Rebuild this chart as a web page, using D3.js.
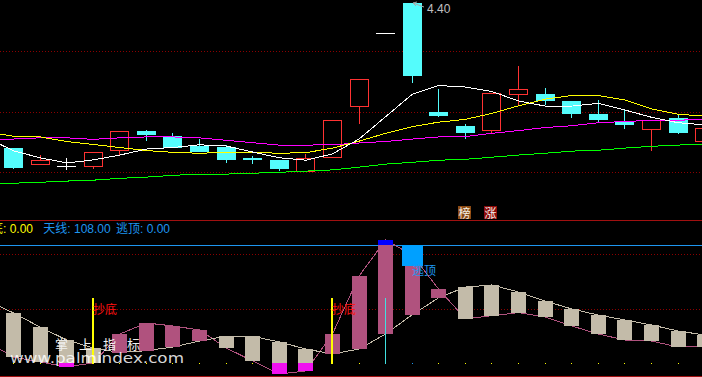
<!DOCTYPE html>
<html>
<head>
<meta charset="utf-8">
<title>K线 抄底逃顶</title>
<script src="https://cdn.jsdelivr.net/npm/d3@7"></script>
<style>
  html, body { margin: 0; padding: 0; background: #000; overflow: hidden; }
  svg { display: block; font-family: "Liberation Sans", Arial, "Noto Sans CJK SC", sans-serif; }
</style>
</head>
<body>
<svg id="chart" width="702" height="377"></svg>
<script>
// daily K-line, price in yuan
var opens  = [3.920, 3.867, 3.861, 3.861, 3.914, 3.977, 3.960, 3.927, 3.924, 3.887, 3.881, 3.844, 3.891, 4.059, 4.301, 4.400, 4.039, 3.993, 3.980, 4.099, 4.099, 4.076, 4.033, 4.006, 3.983, 4.020, 3.943];
var highs  = [3.920, 3.897, 3.887, 3.907, 3.977, 3.980, 3.970, 3.950, 3.930, 3.894, 3.881, 3.901, 4.013, 4.148, 4.301, 4.400, 4.115, 4.000, 4.102, 4.191, 4.119, 4.076, 4.079, 4.046, 4.013, 4.033, 3.986];
var lows   = [3.851, 3.867, 3.848, 3.851, 3.894, 3.943, 3.920, 3.907, 3.871, 3.867, 3.844, 3.844, 3.891, 4.000, 4.301, 4.135, 4.023, 3.950, 3.970, 4.059, 4.062, 4.020, 4.006, 3.983, 3.910, 3.967, 3.943];
var closes = [3.854, 3.881, 3.861, 3.907, 3.977, 3.963, 3.920, 3.907, 3.881, 3.881, 3.851, 3.887, 4.013, 4.148, 4.301, 4.158, 4.026, 3.970, 4.102, 4.115, 4.076, 4.033, 4.013, 3.996, 4.013, 3.970, 3.986];

// moving averages, first value = the day before the visible window
var ma5  = [3.954, 3.911, 3.888, 3.871, 3.881, 3.897, 3.917, 3.922, 3.931, 3.927, 3.907, 3.888, 3.880, 3.901, 3.950, 4.024, 4.098, 4.127, 4.122, 4.107, 4.076, 4.059, 4.059, 4.068, 4.046, 4.022, 4.004, 3.997];
var ma10 = [3.974, 3.959, 3.957, 3.942, 3.932, 3.922, 3.912, 3.906, 3.903, 3.906, 3.906, 3.903, 3.905, 3.920, 3.943, 3.969, 3.991, 4.006, 4.015, 4.035, 4.060, 4.082, 4.094, 4.094, 4.079, 4.050, 4.032, 4.026];
var ma20 = [3.950, 3.950, 3.954, 3.954, 3.949, 3.954, 3.957, 3.957, 3.954, 3.946, 3.938, 3.930, 3.930, 3.931, 3.937, 3.942, 3.950, 3.957, 3.958, 3.969, 3.978, 3.988, 3.994, 4.004, 4.008, 4.012, 4.012, 4.016];
var ma60 = [3.802, 3.804, 3.807, 3.811, 3.814, 3.820, 3.824, 3.830, 3.834, 3.834, 3.837, 3.840, 3.844, 3.848, 3.857, 3.867, 3.873, 3.880, 3.883, 3.890, 3.897, 3.903, 3.910, 3.913, 3.920, 3.926, 3.930, 3.933];

var priceGrid = [4.24, 4.04, 3.84];
var tagDays = [17, 18];
var tagTexts = ["榜", "涨"];

// indicator panel, first value = the day before the visible window
var lineA = [57.3, 45.9, 33.0, 21.1, 13.8, 9.6, 11.3, 14.7, 20.2, 24.5, 24.5, 19.3, 12.8, 8.3, 12.8, 26.6, 44.3, 59.9, 69.7, 71.6, 65.1, 56.9, 49.6, 44.0, 39.5, 34.9, 29.4, 25.7];
var lineB = [19.3, 5.5, 0.9, -3.4, 0.0, 26.6, 36.7, 34.0, 30.3, 13.8, 1.8, -10.1, -7.3, 26.6, 79.8, 112.9, 99.1, 67.6, 40.6, 43.4, 46.2, 42.2, 34.0, 26.6, 21.1, 20.2, 14.7, 14.7];
var skyLine = 108;
var indGrid = [100, 50];
var buyDays = [3, 12];     // 抄底
var buyTop = 60;
var warnDays = [14];
var escapeDays = [15];     // 逃顶
var escapeLow = 89.3;
var headLabels = ["抄底", "天线", "逃顶"];
var headValues = [0, 108, 0];

var W = 702, H = 377;
var svg = d3.select("#chart");
svg.append("rect").attr("width", W).attr("height", H).attr("fill", "#000");

var x = d3.scaleLinear().domain([0, 25]).range([13.5, 678]);
var yP = d3.scaleLinear().domain([4.40, 3.84]).range([3, 172.3]);
var yI = d3.scaleLinear().domain([skyLine, 0]).range([245.3, 363]);
var days = d3.range(opens.length);

function px(i) { return Math.floor(x(i)); }
function hy(v) { return Math.round(v) + 0.5; }

var CYAN = "#54fcfc", RED = "#ff3232", TAN = "#c3bba9", PINK = "#b0527e";

/**
 * top panel: grid, candles, moving averages
 */
var gTop = svg.append("g").attr("shape-rendering", "crispEdges");

gTop.selectAll(".pgrid").data(priceGrid).join("line")
    .attr("x1", 0).attr("x2", W)
    .attr("y1", function (d) { return hy(yP(d)); })
    .attr("y2", function (d) { return hy(yP(d)); })
    .attr("stroke", "#8c0000").attr("stroke-dasharray", "1,2");

function kColor(i) {
    if (closes[i] > opens[i]) return RED;
    if (closes[i] < opens[i]) return CYAN;
    return "#ffffff";
}

var candle = gTop.selectAll(".k").data(days).join("g").attr("class", "k");

candle.append("line")
    .attr("x1", function (i) { return px(i) + 0.5; })
    .attr("x2", function (i) { return px(i) + 0.5; })
    .attr("y1", function (i) { return yP(highs[i]); })
    .attr("y2", function (i) { return yP(lows[i]); })
    .attr("stroke", kColor);

candle.filter(function (i) { return closes[i] < opens[i]; }).append("rect")
    .attr("x", function (i) { return px(i) - 9; })
    .attr("width", 19)
    .attr("y", function (i) { return Math.round(yP(opens[i])); })
    .attr("height", function (i) { return Math.max(1, Math.round(yP(closes[i]) - yP(opens[i]))); })
    .attr("fill", CYAN);

candle.filter(function (i) { return closes[i] > opens[i]; }).append("rect")
    .attr("x", function (i) { return px(i) - 8.5; })
    .attr("width", 18)
    .attr("y", function (i) { return hy(yP(closes[i])); })
    .attr("height", function (i) { return Math.max(1, Math.round(yP(opens[i]) - yP(closes[i]))); })
    .attr("fill", "#000").attr("stroke", RED);

candle.filter(function (i) { return closes[i] === opens[i]; }).append("line")
    .attr("x1", function (i) { return px(i) - 9; })
    .attr("x2", function (i) { return px(i) + 10; })
    .attr("y1", function (i) { return hy(yP(opens[i])); })
    .attr("y2", function (i) { return hy(yP(opens[i])); })
    .attr("stroke", "#ffffff");

var maLine = d3.line()
    .x(function (d, k) { return x(k - 1); })
    .y(function (d) { return yP(d); });

[[ma60, "#00ff00"], [ma20, "#ff00ff"], [ma10, "#ffff00"], [ma5, "#ffffff"]].forEach(function (m) {
    gTop.append("path").datum(m[0])
        .attr("d", maLine)
        .attr("fill", "none")
        .attr("stroke", m[1])
        .attr("stroke-width", 1);
});

// highest price marker
var hiDay = d3.maxIndex(highs);
var hx = px(hiDay) + 1, hyv = yP(highs[hiDay]);
var gHi = svg.append("g").attr("stroke", "#a8a8a8").attr("fill", "none");
gHi.append("line").attr("x1", hx).attr("y1", hyv).attr("x2", hx + 11).attr("y2", hyv + 4);
gHi.append("path").attr("d", "M" + (hx + 4) + "," + (hyv - 1) + "L" + hx + "," + hyv + "L" + (hx + 3) + "," + (hyv + 3));
svg.append("text")
    .attr("x", hx + 14).attr("y", hyv + 10)
    .attr("font-size", 12).attr("fill", "#c0c0c0")
    .text(d3.format(".2f")(highs[hiDay]));

// tags above the separator
var tagFill = ["#8b4a14", "#8c0a0a"];
tagDays.forEach(function (d, k) {
    svg.append("rect")
        .attr("x", px(d) - 7).attr("y", 206).attr("width", 13).attr("height", 13)
        .attr("fill", tagFill[k]);
    svg.append("text")
        .attr("x", px(d) - 0.5).attr("y", 217.5)
        .attr("text-anchor", "middle")
        .attr("font-family", "Noto Sans CJK SC").attr("font-size", 12)
        .attr("fill", "#f4f0e8")
        .text(tagTexts[k]);
});

/**
 * panel separators and indicator header
 */
var gFrame = svg.append("g").attr("shape-rendering", "crispEdges");
gFrame.append("line").attr("x1", 0).attr("x2", W).attr("y1", 220.5).attr("y2", 220.5).attr("stroke", "#a01010");
gFrame.append("line").attr("x1", 0).attr("x2", W).attr("y1", 376.5).attr("y2", 376.5).attr("stroke", "#a01010");

var headX = [-21, 43.3, 116];
var headColor = ["#ffff00", "#1e96f0", "#1e96f0"];
headLabels.forEach(function (lab, k) {
    svg.append("text")
        .attr("x", headX[k]).attr("y", 233)
        .attr("font-size", 12)
        .attr("fill", headColor[k])
        .text(lab + ": " + d3.format(".2f")(headValues[k]));
});

/**
 * lower panel: indicator
 */
var gInd = svg.append("g").attr("shape-rendering", "crispEdges");

gInd.selectAll(".igrid").data(indGrid).join("line")
    .attr("x1", 0).attr("x2", W)
    .attr("y1", function (d) { return hy(yI(d)); })
    .attr("y2", function (d) { return hy(yI(d)); })
    .attr("stroke", "#8c0000").attr("stroke-dasharray", "1,2");

gInd.append("line")
    .attr("x1", 0).attr("x2", W)
    .attr("y1", hy(yI(skyLine))).attr("y2", hy(yI(skyLine)))
    .attr("stroke", "#1e96f0");

// zero dots
gInd.selectAll(".zdot").data(days).join("rect")
    .attr("x", function (i) { return px(i); })
    .attr("y", Math.round(yI(0)))
    .attr("width", 1).attr("height", 1)
    .attr("fill", function (i) { return escapeDays.indexOf(i) >= 0 ? "#1e96f0" : "#ffff00"; });

var indLine = d3.line()
    .x(function (d, k) { return x(k - 1); })
    .y(function (d) { return yI(d); });

gInd.append("path").datum(lineB).attr("d", indLine)
    .attr("fill", "none").attr("stroke", PINK);
gInd.append("path").datum(lineA).attr("d", indLine)
    .attr("fill", "none").attr("stroke", TAN);

// bars between the two lines
function barSeg(sel, lo, hi, color) {
    sel.append("rect")
        .attr("x", function (i) { return px(i) - 7; })
        .attr("width", 15)
        .attr("y", function (i) { return Math.round(yI(hi(i))); })
        .attr("height", function (i) { return Math.max(0, Math.round(yI(lo(i))) - Math.round(yI(hi(i)))); })
        .attr("fill", color);
}
function top_(i) { return Math.max(lineA[i + 1], lineB[i + 1]); }
function bot_(i) { return Math.min(lineA[i + 1], lineB[i + 1]); }

var bars = gInd.selectAll(".bar").data(days).join("g");
barSeg(bars, function (i) { return Math.max(bot_(i), 0); },
    function (i) { return Math.min(top_(i), skyLine); },
    function (i) { return lineA[i + 1] >= lineB[i + 1] ? TAN : PINK; });
barSeg(bars.filter(function (i) { return bot_(i) < 0; }),
    bot_, function (i) { return Math.min(top_(i), 0); }, "#f010f0");
barSeg(bars.filter(function (i) { return top_(i) > skyLine; }),
    function () { return skyLine; }, top_, "#0000ff");

// signals
buyDays.forEach(function (d) {
    gInd.append("rect")
        .attr("x", px(d) - 1).attr("width", 2)
        .attr("y", Math.round(yI(buyTop)))
        .attr("height", Math.round(yI(0)) - Math.round(yI(buyTop)) + 1)
        .attr("fill", "#ffff00");
    svg.append("text")
        .attr("x", px(d)).attr("y", 314)
        .attr("font-family", "Noto Sans CJK SC").attr("font-size", 12)
        .attr("fill", "#ff1010")
        .text("抄底");
});
warnDays.forEach(function (d) {
    gInd.append("rect")
        .attr("x", px(d)).attr("width", 1)
        .attr("y", Math.round(yI(buyTop)))
        .attr("height", Math.round(yI(0)) - Math.round(yI(buyTop)) + 1)
        .attr("fill", "#40e0e0");
});
escapeDays.forEach(function (d) {
    gInd.append("rect")
        .attr("x", px(d) - 10).attr("width", 21)
        .attr("y", Math.round(yI(skyLine)))
        .attr("height", Math.round(yI(escapeLow)) - Math.round(yI(skyLine)))
        .attr("fill", "#00a0ff");
    svg.append("text")
        .attr("x", px(d)).attr("y", 275)
        .attr("font-family", "Noto Sans CJK SC").attr("font-size", 12)
        .attr("fill", "#1e96f0")
        .text("逃顶");
});

// watermark
svg.append("text")
    .attr("x", 55).attr("y", 349)
    .attr("font-family", "Noto Sans CJK SC").attr("font-size", 13)
    .attr("letter-spacing", 11)
    .attr("fill", "#f0f0f0")
    .text("掌上指标");
svg.append("text")
    .attr("x", 10).attr("y", 362.5)
    .attr("font-family", "DejaVu Sans").attr("font-size", 14)
    .attr("textLength", 174).attr("lengthAdjust", "spacingAndGlyphs")
    .attr("fill", "#ffffff").attr("fill-opacity", 0.85)
    .text("www.palmindex.com");
</script>
</body>
</html>
